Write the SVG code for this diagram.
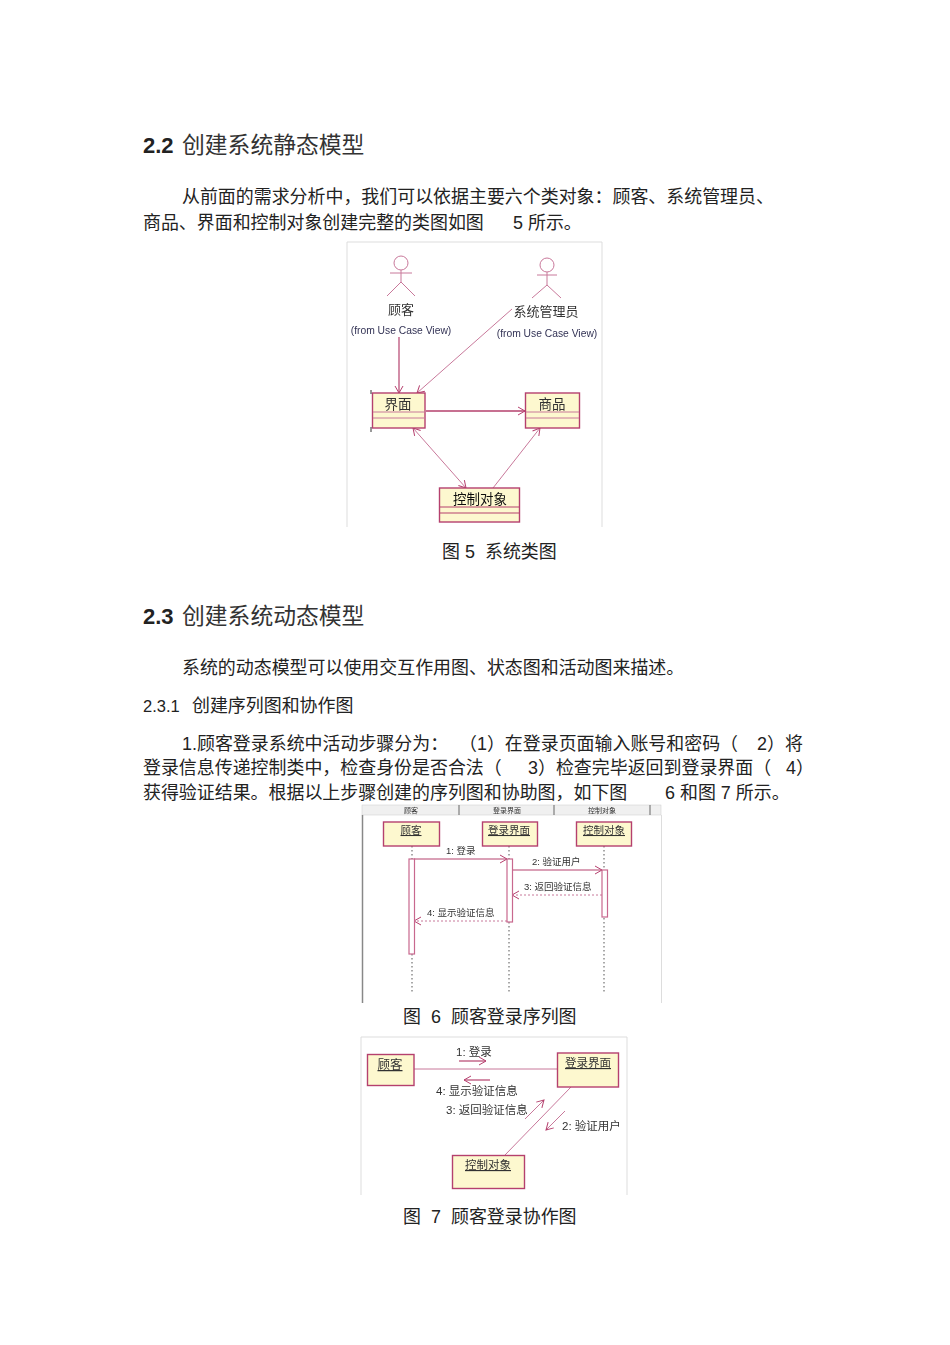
<svg xmlns="http://www.w3.org/2000/svg" width="950" height="1345" viewBox="0 0 950 1345">
<style>
text{font-family:"Liberation Sans","Noto Sans CJK SC",sans-serif;fill:#222}
.b{font-size:17.95px}
.h{font-size:22.8px;fill:#333}
.hn{font-size:22px;font-weight:bold;fill:#222}
.s{font-size:16.5px}
.l{fill:none;stroke:#b5406e;stroke-width:1.2}
.lt{fill:none;stroke:#c8789a;stroke-width:1}
.c{fill:#fdf8cf;stroke:#b5406e;stroke-width:1.4}
.d{fill:none;stroke:#c8789a;stroke-width:1;stroke-dasharray:2 2}
.ll{fill:none;stroke:#555;stroke-width:1;stroke-dasharray:1.5 2.5}
.a{fill:#fff;stroke:#c8688e;stroke-width:1.2}
.f{fill:none;stroke:#ddd;stroke-width:1}
.t{font-size:12.5px;fill:#333}
.n{font-size:12.5px;fill:#333;text-anchor:middle}
.u{font-size:10.3px;fill:#335;text-anchor:middle}
.soft{filter:url(#bl)}
</style>
<defs>
<filter id="bl" x="-5%" y="-5%" width="110%" height="110%"><feGaussianBlur stdDeviation="0.7"/></filter>
<marker id="o" markerWidth="10" markerHeight="10" refX="8" refY="5" orient="auto" markerUnits="userSpaceOnUse"><path d="M1 1L8 5L1 9" fill="none" stroke="#b5406e" stroke-width="1"/></marker>
<marker id="os" markerWidth="10" markerHeight="10" refX="2" refY="5" orient="auto" markerUnits="userSpaceOnUse"><path d="M9 1L2 5L9 9" fill="none" stroke="#b5406e" stroke-width="1"/></marker>
</defs>
<rect width="950" height="1345" fill="#fff"/>

<g id="body-text">
<text x="143" y="152.500" class="hn">2.2</text><text x="182" y="153" class="h">创建系统静态模型</text>
<text x="182" y="203" class="b">从前面的需求分析中，我们可以依据主要六个类对象：顾客、系统管理员、</text>
<text x="143" y="229" class="b">商品、界面和控制对象创建完整的类图如图</text><text x="513" y="229" class="b">5 所示。</text>
<text x="442" y="558" class="b">图 5</text><text x="485" y="558" class="b">系统类图</text>
<text x="143" y="623.500" class="hn">2.3</text><text x="182" y="624" class="h">创建系统动态模型</text>
<text x="182" y="674" class="b">系统的动态模型可以使用交互作用图、状态图和活动图来描述。</text>
<text x="143" y="712" class="s">2.3.1</text><text x="192" y="712" class="b">创建序列图和协作图</text>
<text x="182" y="750" class="b">1.顾客登录系统中活动步骤分为：</text><text x="459" y="750" class="b">（1）在登录页面输入账号和密码（</text><text x="757" y="750" class="b">2）将</text>
<text x="143" y="774" class="b">登录信息传递控制类中，检查身份是否合法（</text><text x="528" y="774" class="b">3）检查完毕返回到登录界面（</text><text x="786" y="774" class="b">4）</text>
<text x="143" y="799" class="b">获得验证结果。根据以上步骤创建的序列图和协助图，如下图</text><text x="665" y="799" class="b">6 和图 7 所示。</text>
<text x="403" y="1023" class="b">图</text><text x="431" y="1023" class="b">6</text><text x="451" y="1023" class="b">顾客登录序列图</text>
<text x="403" y="1223" class="b">图</text><text x="431" y="1223" class="b">7</text><text x="451" y="1223" class="b">顾客登录协作图</text>
</g>

<g id="figure5" class="soft">
<path class="f" d="M347 527V242H602V527"/>
<g id="connectors5">
<path class="l" d="M399 337V393" marker-end="url(#o)"/>
<path class="lt" d="M512 309L417 393" marker-end="url(#o)"/>
<path class="l" style="stroke-width:1.6" d="M426 411H525" marker-end="url(#o)"/>
<path class="lt" d="M413 428L466 488" marker-start="url(#os)" marker-end="url(#o)"/>
<path class="lt" d="M493 488L540 428" marker-end="url(#o)"/>
</g>
<g id="actor-customer"><circle class="lt" cx="401" cy="263" r="7"/><path class="lt" d="M401 270V282M390 273H412M387 296L401 282L415 296"/>
<text x="401" y="314" class="n" style="font-size:13px">顾客</text><text x="401" y="334" class="u">(from Use Case View)</text></g>
<g id="actor-admin"><circle class="lt" cx="547" cy="265" r="7"/><path class="lt" d="M547 272V285M537 275H557M532 298L547 285L561 298"/>
<text x="546" y="316" class="n" style="font-size:13px">系统管理员</text><text x="547" y="337" class="u">(from Use Case View)</text></g>
<g id="class-ui"><rect class="c" x="372.500" y="393" width="52.500" height="35"/><path class="lt" d="M373 412H425M373 418H425"/><path d="M371 390V394M371 427V432" stroke="#333"/><text x="398" y="409" class="n" style="font-size:13.500px">界面</text></g>
<g id="class-goods"><rect class="c" x="525.500" y="393" width="54" height="35"/><path class="lt" d="M526 412H579M526 418H579"/><text x="552" y="409" class="n" style="font-size:13.500px">商品</text></g>
<g id="class-control"><rect class="c" x="439.500" y="488" width="80" height="34"/><path class="l" d="M440 507H519M440 513H519"/><text x="480" y="504" class="n" style="font-size:13.500px;fill:#111">控制对象</text></g>
</g>

<g id="figure6" class="soft">
<rect x="362" y="805" width="299" height="10" fill="#f0f0f0" stroke="#ccc" stroke-width=".5"/>
<path d="M459 805V815M554 805V815M650 805V815" stroke="#666"/>
<text x="411" y="813" class="n" style="font-size:7px">顾客</text><text x="507" y="813" class="n" style="font-size:7px">登录界面</text><text x="602" y="813" class="n" style="font-size:7px">控制对象</text>
<path d="M362.500 815V1003" stroke="#888" stroke-width="1.500"/><path d="M661.500 815V1003" stroke="#ddd"/>
<g id="connectors6">
<path class="ll" d="M412 846V993M509 846V993M604 846V993"/>
<path class="l" d="M414 859H507" marker-end="url(#o)"/>
<path class="l" d="M512 870H602" marker-end="url(#o)"/>
<path class="d" d="M602 895H512" marker-end="url(#o)"/>
<path class="d" d="M507 921H414" marker-end="url(#o)"/>
</g>
<rect class="a" x="409" y="859" width="5.500" height="95"/><rect class="a" x="507" y="859" width="5.500" height="63"/><rect class="a" x="602" y="870" width="5.500" height="47"/>
<g id="seq-customer"><rect class="c" x="383.500" y="822" width="56" height="24"/><text x="411" y="834" class="n" style="font-size:10.500px;text-decoration:underline">顾客</text></g>
<g id="seq-login"><rect class="c" x="482.500" y="822" width="55" height="24"/><text x="509" y="834" class="n" style="font-size:10.500px;text-decoration:underline">登录界面</text></g>
<g id="seq-control"><rect class="c" x="576.500" y="822" width="55" height="24"/><text x="604" y="834" class="n" style="font-size:10.500px;text-decoration:underline">控制对象</text></g>
<text x="446" y="854" class="t" style="font-size:9.500px">1: 登录</text>
<text x="532" y="865" class="t" style="font-size:9.500px">2: 验证用户</text>
<text x="524" y="890" class="t" style="font-size:9.500px">3: 返回验证信息</text>
<text x="427" y="916" class="t" style="font-size:9.500px">4: 显示验证信息</text>
</g>

<g id="figure7" class="soft">
<path class="f" d="M361 1195V1037H627V1195"/>
<g id="connectors7">
<path class="lt" d="M414 1069H557M571 1087L505 1155"/>
<path class="l" d="M459 1061H486" marker-end="url(#o)"/>
<path class="l" d="M490 1080H464" marker-end="url(#o)"/>
<path class="lt" d="M525 1119L544 1100" marker-end="url(#o)"/>
<path class="lt" d="M565 1111L546 1130" marker-end="url(#o)"/>
</g>
<g id="col-customer"><rect class="c" x="367.500" y="1054.500" width="46.500" height="31"/><text x="390" y="1069" class="n" style="font-size:12.500px;text-decoration:underline">顾客</text></g>
<g id="col-login"><rect class="c" x="557.500" y="1053" width="61" height="34"/><text x="588" y="1067" class="n" style="font-size:11.500px;text-decoration:underline">登录界面</text></g>
<g id="col-control"><rect class="c" x="452.500" y="1155.500" width="72" height="33"/><text x="488" y="1169" class="n" style="font-size:11.500px;text-decoration:underline">控制对象</text></g>
<text x="456" y="1056" class="t" style="font-size:11.500px">1: 登录</text>
<text x="436" y="1095" class="t" style="font-size:11.500px">4: 显示验证信息</text>
<text x="446" y="1114" class="t" style="font-size:11.500px">3: 返回验证信息</text>
<text x="562" y="1130" class="t" style="font-size:11.500px">2: 验证用户</text>
</g>
</svg>
